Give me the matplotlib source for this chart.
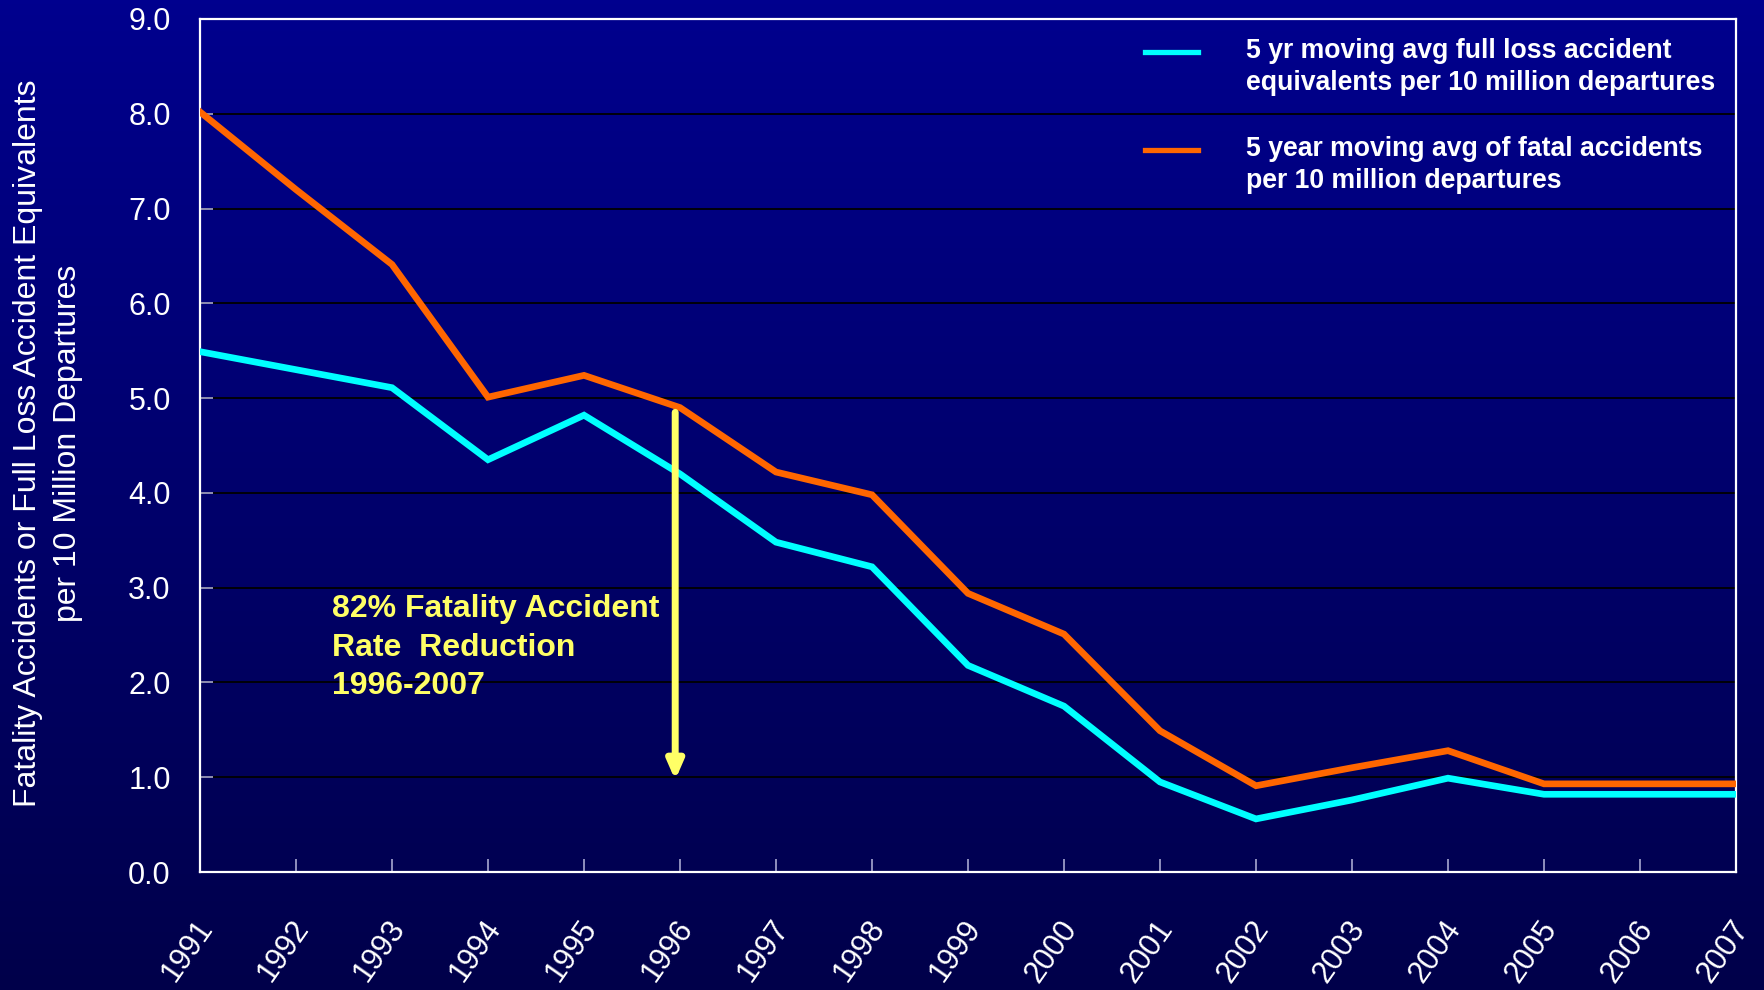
import numpy as np
import matplotlib
matplotlib.use("Agg")
import matplotlib.pyplot as plt
from matplotlib.colors import LinearSegmentedColormap
from matplotlib.transforms import ScaledTranslation
from matplotlib.legend_handler import HandlerLine2D

# ---- data ----
years = [1991, 1992, 1993, 1994, 1995, 1996, 1997, 1998, 1999,
         2000, 2001, 2002, 2003, 2004, 2005, 2006, 2007]
full_loss = [5.49, 5.30, 5.11, 4.35, 4.82, 4.20, 3.48, 3.22, 2.18,
             1.75, 0.95, 0.56, 0.76, 0.99, 0.82, 0.82, 0.82]
fatal = [8.02, 7.20, 6.41, 5.01, 5.24, 4.90, 4.22, 3.98, 2.94,
         2.51, 1.49, 0.91, 1.10, 1.28, 0.93, 0.93, 0.93]
yticks = [0.0, 1.0, 2.0, 3.0, 4.0, 5.0, 6.0, 7.0, 8.0, 9.0]
series_labels = ["5 yr moving avg full loss accident\nequivalents per 10 million departures",
                 "5 year moving avg of fatal accidents\nper 10 million departures"]
ylabel = "Fatality Accidents or Full Loss Accident Equivalents\nper 10 Million Departures"
note = "82% Fatality Accident\nRate  Reduction\n1996-2007"
arrow_year = 1995.95
arrow_from, arrow_to = 4.85, 0.97

plt.rcParams['font.family'] = ['Liberation Sans', 'DejaVu Sans']

W, H = 1764, 990
fig = plt.figure(figsize=(W / 100, H / 100), dpi=100)

# background gradient
bg = fig.add_axes([0, 0, 1, 1], zorder=-10)
cmap = LinearSegmentedColormap.from_list("bg", ["#00004A", "#00008E"])
grad = np.linspace(0, 1, 256).reshape(-1, 1)
bg.imshow(grad, aspect='auto', cmap=cmap, origin='lower', extent=[0, 1, 0, 1])
bg.axis('off')

L, R, T, B = 200, 1736, 19, 872
ax = fig.add_axes([L / W, 1 - B / H, (R - L) / W, (B - T) / H])
ax.patch.set_alpha(0)

cyan = '#00FFFF'
orange = '#FF6600'
l1, = ax.plot(years, full_loss, color=cyan, lw=4.8, solid_joinstyle='miter', zorder=3)
l2, = ax.plot(years, fatal, color=orange, lw=4.8, solid_joinstyle='miter', zorder=3)

ax.set_xlim(1991, 2007)
ax.set_ylim(0, 9)
ax.set_yticks(yticks)
ax.set_yticklabels([f"{v:.1f}" for v in yticks])
ax.set_xticks(years)
ax.set_xticklabels([str(y) for y in years], rotation=55, ha='right', va='center',
                   rotation_mode='anchor')

ax.grid(axis='y', color='black', lw=1.3, zorder=1)
ax.set_axisbelow(True)
for s in ax.spines.values():
    s.set_color('white')
    s.set_linewidth(1.6)

ax.tick_params(axis='y', direction='in', length=9, width=1.2, color='#A8A8D0',
               labelcolor='white', labelsize=22, pad=21)
ax.tick_params(axis='x', direction='in', length=9.5, width=1.2, color='#A8A8D0',
               labelcolor='white', labelsize=22, pad=37)
off = ScaledTranslation(7 / 100, 0, fig.dpi_scale_trans)
for lab in ax.get_xticklabels():
    lab.set_transform(lab.get_transform() + off)

fig.text(48 / W, 1 - 443 / H, ylabel, rotation=90, color='white', fontsize=23,
         ha='center', va='center', multialignment='center', linespacing=1.42)

# annotation
ax.annotate('', xy=(arrow_year, arrow_to), xytext=(arrow_year, arrow_from),
            arrowprops=dict(arrowstyle='-|>,head_length=1.1,head_width=0.48',
                            color='#FFFF66', lw=5, shrinkA=0, shrinkB=0),
            zorder=4)
ax.text(1992.375, 2.93, note, color='#FFFF66', fontsize=23, fontweight='bold',
        ha='left', va='top', linespacing=1.36, zorder=4)


class TopLineHandler(HandlerLine2D):
    def __init__(self, shift, **kw):
        super().__init__(**kw)
        self.shift = shift

    def create_artists(self, legend, orig_handle, xdescent, ydescent, width,
                       height, fontsize, trans):
        arts = super().create_artists(legend, orig_handle, xdescent, ydescent,
                                      width, height, fontsize, trans)
        for a in arts:
            a.set_ydata(np.asarray(a.get_ydata()) + self.shift)
            a.set_linewidth(3.8)
        return arts


h = TopLineHandler(11.0)
leg = ax.legend([l1, l2], series_labels, loc='upper left',
                bbox_to_anchor=(1145 / W, 1 - 38 / H), bbox_transform=fig.transFigure,
                frameon=False, borderpad=0, borderaxespad=0,
                handlelength=2.0, handletextpad=1.8, labelspacing=1.5,
                prop={'size': 19.2, 'weight': 'bold'}, labelcolor='white',
                handler_map={l1: h, l2: h})
for t in leg.get_texts():
    t.set_linespacing(1.3)

fig.savefig('out.png', dpi=100)
